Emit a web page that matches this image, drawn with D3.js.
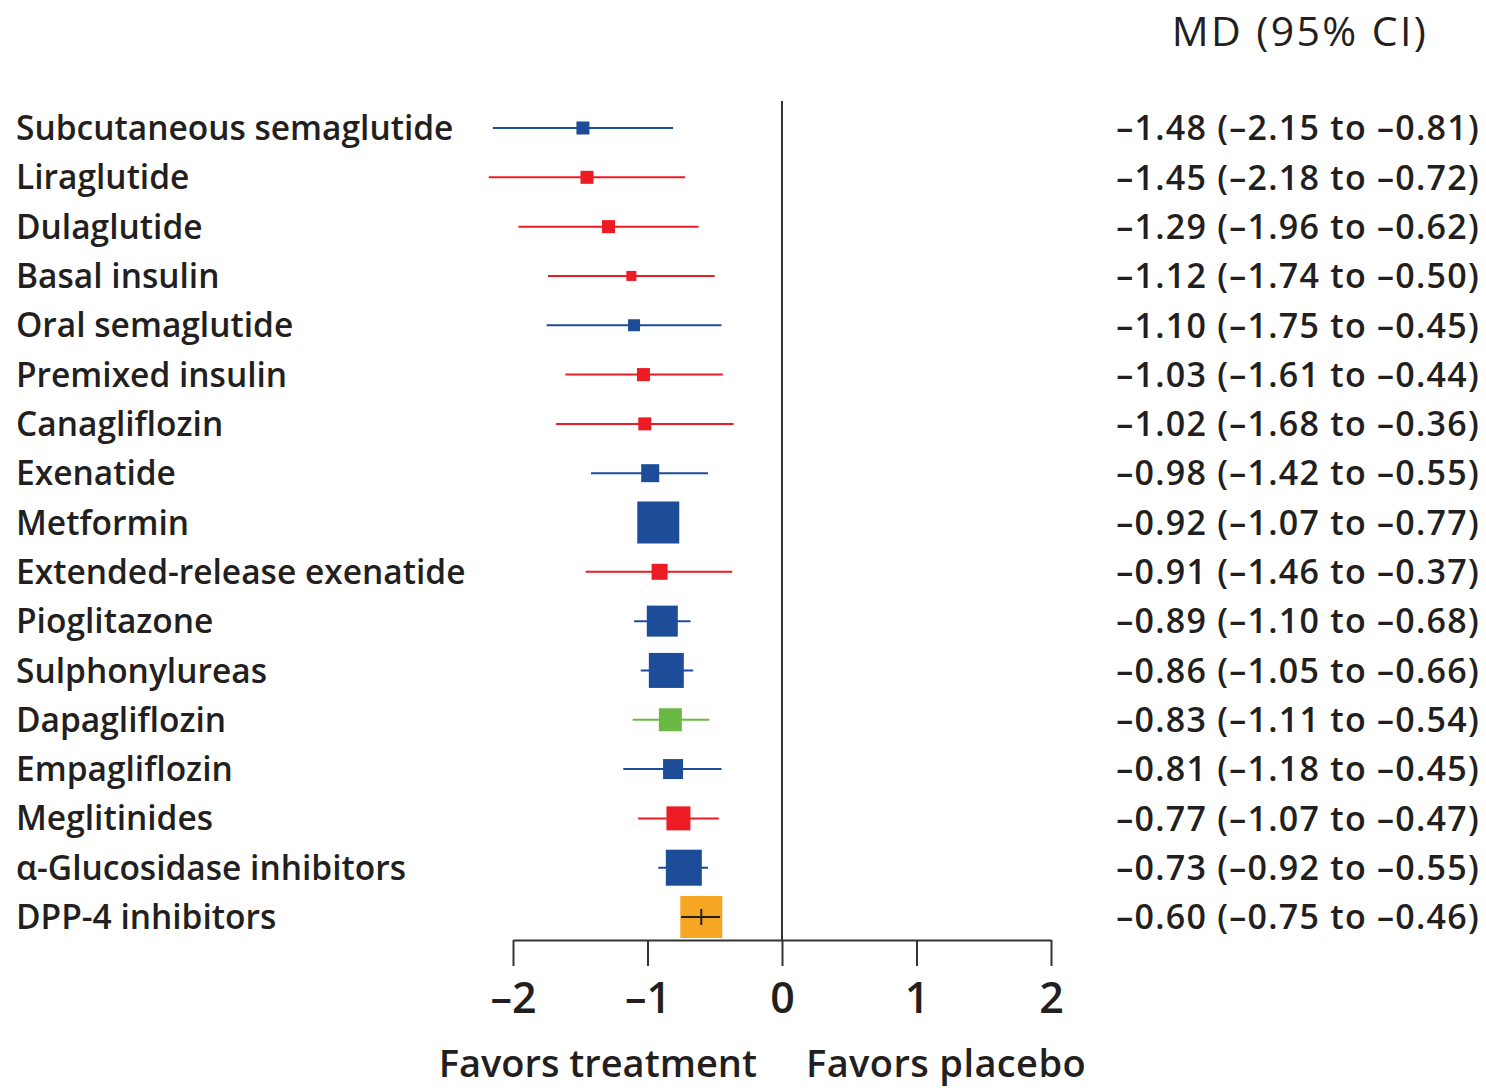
<!DOCTYPE html>
<html>
<head>
<meta charset="utf-8">
<script src="https://cdn.jsdelivr.net/npm/d3@7"></script>
<style>
  html, body { margin: 0; padding: 0; background: #fff; }
  svg { display: block; }
  text { font-family: "Open Sans", "Noto Sans", sans-serif; fill: #231f20; }
</style>
</head>
<body>
<svg id="chart" width="1486" height="1088"></svg>
<script>
// Treatments, mean differences with 95% CIs, relative weights and drug-class colours
const treatments = [
  "Subcutaneous semaglutide", "Liraglutide", "Dulaglutide", "Basal insulin",
  "Oral semaglutide", "Premixed insulin", "Canagliflozin", "Exenatide",
  "Metformin", "Extended-release exenatide", "Pioglitazone", "Sulphonylureas",
  "Dapagliflozin", "Empagliflozin", "Meglitinides", "α-Glucosidase inhibitors",
  "DPP-4 inhibitors"
];
const md    = [-1.48, -1.45, -1.29, -1.12, -1.10, -1.03, -1.02, -0.98, -0.92, -0.91, -0.89, -0.86, -0.83, -0.81, -0.77, -0.73, -0.60];
const lower = [-2.15, -2.18, -1.96, -1.74, -1.75, -1.61, -1.68, -1.42, -1.07, -1.46, -1.10, -1.05, -1.11, -1.18, -1.07, -0.92, -0.75];
const upper = [-0.81, -0.72, -0.62, -0.50, -0.45, -0.44, -0.36, -0.55, -0.77, -0.37, -0.68, -0.66, -0.54, -0.45, -0.47, -0.55, -0.46];
const weights = [13, 13, 13, 10, 12, 13, 13, 18, 42, 16, 31, 35, 23, 20, 24, 36, 42];
const groups = ["blue", "red", "red", "red", "blue", "red", "red", "blue", "blue", "red", "blue", "blue", "green", "blue", "red", "blue", "orange"];
const tickValues = [-2, -1, 0, 1, 2];

const palette = { blue: "#1d4c98", red: "#ed1c24", green: "#6cb844", orange: "#f5a623" };

const rows = treatments.map((name, i) => ({
  name, md: md[i], lo: lower[i], hi: upper[i], w: weights[i], group: groups[i]
}));

const fmt = v => (v < 0 ? "\u2013" : "") + Math.abs(v).toFixed(2);

const svg = d3.select("#chart");

const x = d3.scaleLinear().domain([-2, 2]).range([513, 1051]);
const y = d3.scalePoint().domain(treatments).range([128, 917]);
const size = d3.scaleLinear().domain([0, d3.max(weights)]).range([0, 42]);

const axisY = 940;

// Line of no effect
svg.append("line")
  .attr("x1", x(0)).attr("x2", x(0))
  .attr("y1", 101).attr("y2", axisY)
  .attr("stroke", "#333").attr("stroke-width", 2);

// Confidence intervals and point-estimate squares
const row = svg.append("g").selectAll("g").data(rows).join("g")
  .attr("transform", d => `translate(0,${y(d.name)})`);

row.filter(d => d.group !== "orange").append("line")
  .attr("x1", d => x(d.lo)).attr("x2", d => x(d.hi))
  .attr("stroke", d => palette[d.group]).attr("stroke-width", 2);

row.append("rect")
  .attr("x", d => x(d.md) - size(d.w) / 2)
  .attr("y", d => -size(d.w) / 2)
  .attr("width", d => size(d.w))
  .attr("height", d => size(d.w))
  .attr("fill", d => palette[d.group]);

// The widest-weight comparator: CI drawn over the square with a centre tick
const over = row.filter(d => d.group === "orange");
over.append("line")
  .attr("x1", d => x(d.lo)).attr("x2", d => x(d.hi))
  .attr("stroke", "#231f20").attr("stroke-width", 2);
over.append("line")
  .attr("x1", d => x(d.md)).attr("x2", d => x(d.md))
  .attr("y1", -8).attr("y2", 8)
  .attr("stroke", "#231f20").attr("stroke-width", 2);

// Treatment labels
row.append("text")
  .attr("x", 16).attr("dy", "0.36em")
  .style("font-size", "33.5px").style("font-weight", 600)
  .text(d => d.name);

// Estimate text column
row.append("text")
  .attr("x", 1480).attr("dy", "0.36em")
  .attr("text-anchor", "end")
  .style("font-size", "34px").style("font-weight", 600)
  .style("letter-spacing", "1.25px")
  .text(d => `${fmt(d.md)} (${fmt(d.lo)} to ${fmt(d.hi)})`);

svg.append("text")
  .attr("x", 1300).attr("y", 31).attr("dy", "0.36em")
  .attr("text-anchor", "middle")
  .style("font-size", "41px").style("font-weight", 500)
  .style("letter-spacing", "2.4px")
  .text("MD (95% CI)");

// X axis with downward ticks
const axis = svg.append("g")
  .attr("transform", `translate(0,${axisY})`)
  .call(d3.axisBottom(x).tickValues(tickValues).tickSize(26).tickSizeOuter(0)
    .tickFormat(v => (v < 0 ? "\u2013" : "") + Math.abs(v)));
axis.select(".domain").attr("stroke", "#333").attr("stroke-width", 2);
axis.selectAll(".tick line").attr("stroke", "#333").attr("stroke-width", 2);
axis.selectAll(".tick text")
  .attr("y", 58).attr("dy", "0.36em")
  .style("font-size", "43px").style("font-weight", 600)
  .style("font-family", "'Open Sans', 'Noto Sans', sans-serif")
  .attr("fill", "#231f20");

svg.append("text")
  .attr("x", 757).attr("y", 1063).attr("dy", "0.36em")
  .attr("text-anchor", "end")
  .style("font-size", "38px").style("font-weight", 600)
  .text("Favors treatment");
svg.append("text")
  .attr("x", 806).attr("y", 1063).attr("dy", "0.36em")
  .style("font-size", "38px").style("font-weight", 600)
  .style("letter-spacing", "0.4px")
  .text("Favors placebo");
</script>
</body>
</html>
